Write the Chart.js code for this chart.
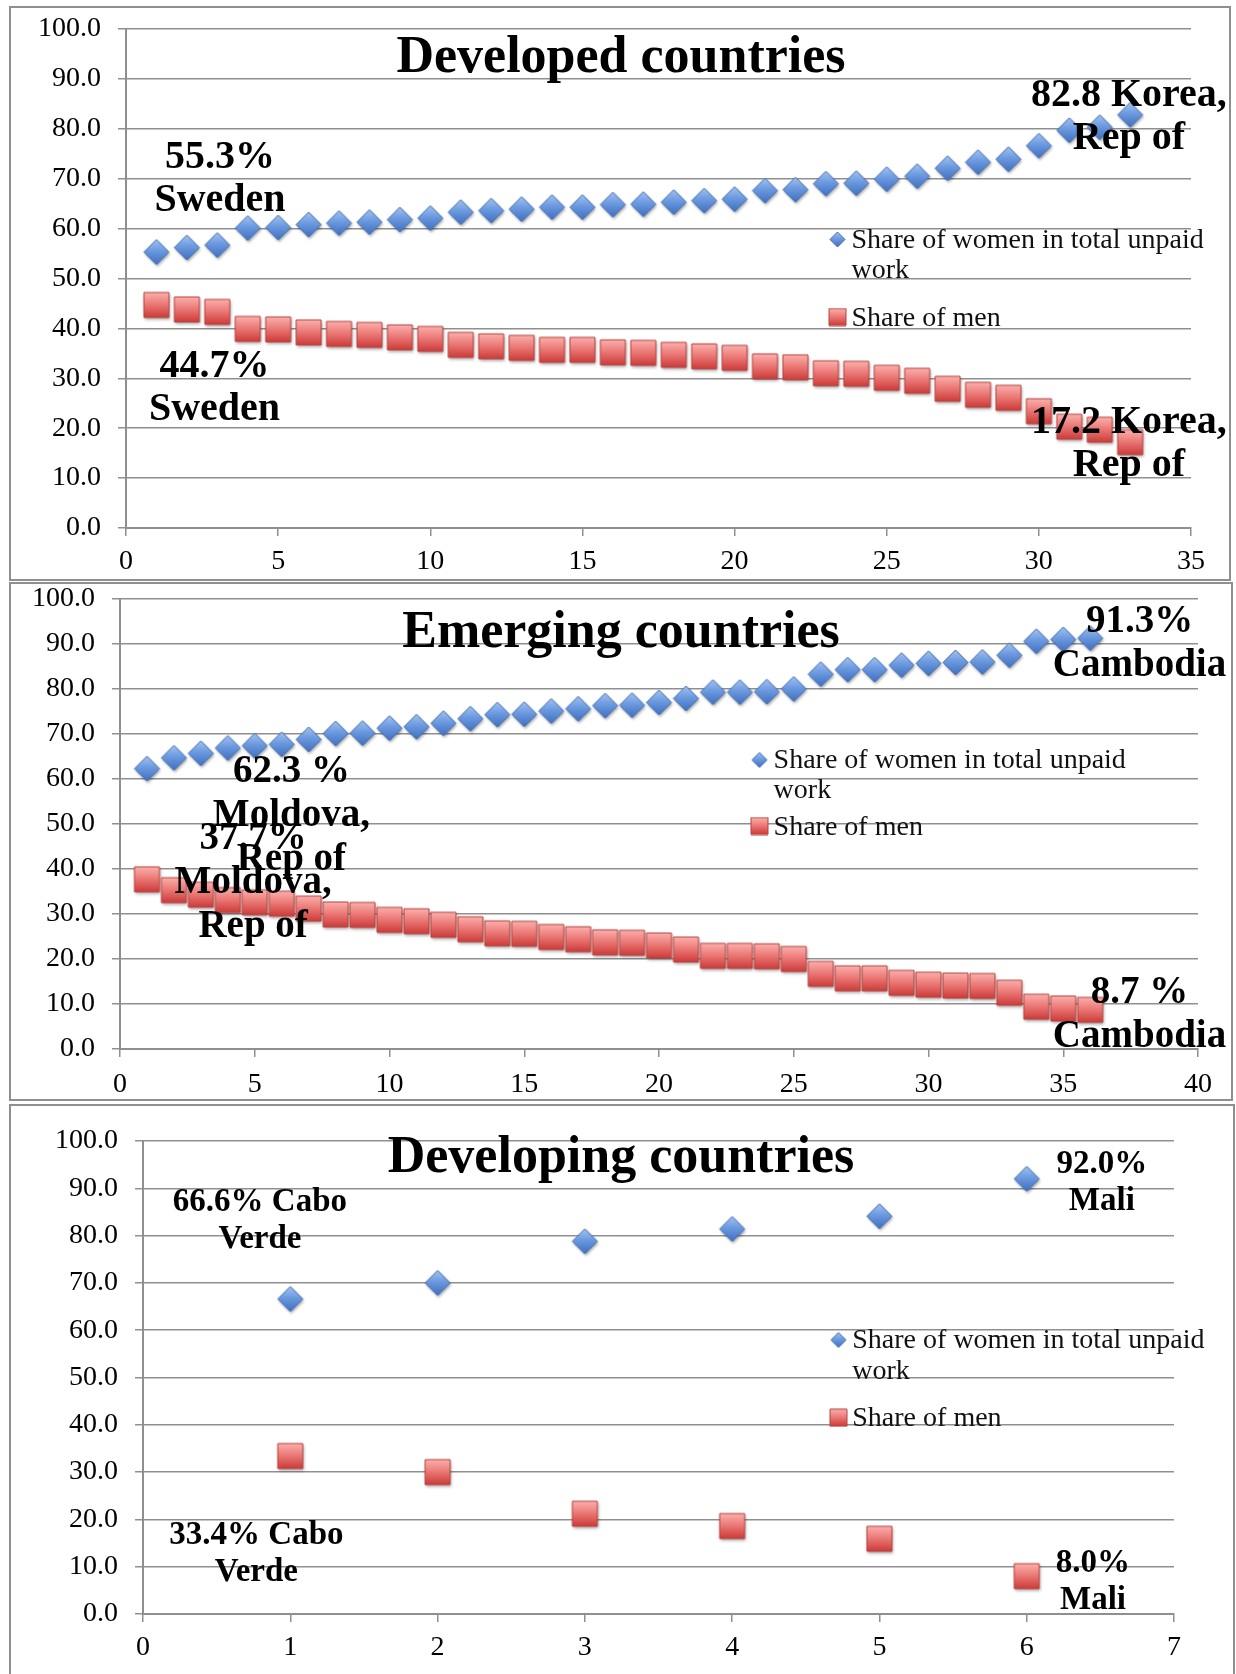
<!DOCTYPE html>
<html>
<head>
<meta charset="utf-8">
<script src="https://cdn.jsdelivr.net/npm/chart.js@4.4.1/dist/chart.umd.min.js"></script>
<style>
html, body { margin: 0; padding: 0; background: #fff; }
body { width: 1236px; height: 1674px; position: relative; overflow: hidden; }
.panel { position: absolute; border: 2px solid #8f8f8f; box-sizing: border-box; }
.wrap { position: absolute; left: 0; width: 1236px; }
canvas { display: block; }
</style>
</head>
<body>
<div class="panel" style="left:9px;top:6px;width:1222px;height:575px"></div>
<div class="panel" style="left:9px;top:582px;width:1224px;height:519px"></div>
<div class="panel" style="left:9px;top:1104px;width:1226px;height:590px"></div>
<div class="wrap" style="top:0px;height:581px"><canvas id="c1" width="1236" height="581"></canvas></div>
<div class="wrap" style="top:581px;height:521px"><canvas id="c2" width="1236" height="521"></canvas></div>
<div class="wrap" style="top:1102px;height:572px"><canvas id="c3" width="1236" height="572"></canvas></div>
<script>
// ---------------- DATA ----------------
const developedRank = [1,2,3,4,5,6,7,8,9,10,11,12,13,14,15,16,17,18,19,20,21,22,23,24,25,26,27,28,29,30,31,32,33];
const developedWomen = [55.3,56.2,56.7,60.1,60.2,60.8,61.1,61.3,61.8,62.1,63.3,63.6,63.9,64.3,64.3,64.8,64.9,65.3,65.6,65.9,67.6,67.8,69.0,69.1,69.9,70.5,72.1,73.3,73.9,76.6,79.7,80.3,82.8];
const developedMen = [44.7,43.8,43.3,39.9,39.8,39.2,38.9,38.7,38.2,37.9,36.7,36.4,36.1,35.7,35.7,35.2,35.1,34.7,34.4,34.1,32.4,32.2,31.0,30.9,30.1,29.5,27.9,26.7,26.1,23.4,20.3,19.7,17.2];

const emergingRank = [1,2,3,4,5,6,7,8,9,10,11,12,13,14,15,16,17,18,19,20,21,22,23,24,25,26,27,28,29,30,31,32,33,34,35,36];
const emergingWomen = [62.3,64.7,65.7,66.9,67.4,67.7,68.8,70.1,70.2,71.3,71.6,72.4,73.4,74.3,74.4,75.1,75.6,76.3,76.4,77.0,77.9,79.3,79.3,79.4,80.0,83.3,84.3,84.3,85.3,85.7,85.9,86.0,87.5,90.6,91.0,91.3];
const emergingMen = [37.7,35.3,34.3,33.1,32.6,32.3,31.2,29.9,29.8,28.7,28.4,27.6,26.6,25.7,25.6,24.9,24.4,23.7,23.6,23.0,22.1,20.7,20.7,20.6,20.0,16.7,15.7,15.7,14.7,14.3,14.1,14.0,12.5,9.4,9.0,8.7];

const developingRank = [1,2,3,4,5,6];
const developingWomen = [66.6,70.0,78.8,81.4,84.1,92.0];
const developingMen = [33.4,30.0,21.2,18.6,15.9,8.0];

const seriesWomenName = 'Share of women in total unpaid work';
const seriesMenName = 'Share of men';
const legendWomenLines = ['Share of women in total unpaid', 'work'];
const legendMenLines = ['Share of men'];

const titles = ['Developed countries', 'Emerging countries', 'Developing countries'];
const yTickFormat = v => Number(v).toFixed(1);

// annotation texts (anchor given in data units of the chart)
const developedNotes = [
  { x: 3.09, y: 72.1, lines: ['55.3%', 'Sweden'] },
  { x: 32.96, y: 84.6, lines: ['82.8 Korea,', 'Rep of'] },
  { x: 2.91, y: 30.3, lines: ['44.7%', 'Sweden'] },
  { x: 32.96, y: 19.0, lines: ['17.2 Korea,', 'Rep of'] }
];
const emergingNotes = [
  { x: 6.36, y: 59.3, lines: ['62.3 %', 'Moldova,', 'Rep of'] },
  { x: 4.94, y: 44.4, lines: ['37.7%', 'Moldova,', 'Rep of'] },
  { x: 37.83, y: 92.7, lines: ['91.3%', 'Cambodia'] },
  { x: 37.83, y: 10.2, lines: ['8.7 %', 'Cambodia'] }
];
const developingNotes = [
  { x: 0.794, y: 85.2, lines: ['66.6% Cabo', 'Verde'] },
  { x: 6.51, y: 93.2, lines: ['92.0%', 'Mali'] },
  { x: 0.77, y: 14.8, lines: ['33.4% Cabo', 'Verde'] },
  { x: 6.45, y: 8.9, lines: ['8.0%', 'Mali'] }
];

// ---------------- STYLE ----------------
const FONT = '"Liberation Serif", "Times New Roman", serif';
const GRID = '#8f8f8f';

function makeMarker(shape, size, shadow) {
  const pad = shadow ? 6 : 1;
  const s = Math.ceil(size + pad * 2);
  const c = document.createElement('canvas');
  c.width = s; c.height = s;
  const g = c.getContext('2d');
  const cx = s / 2, cy = s / 2, h = size / 2;
  const path = () => {
    g.beginPath();
    if (shape === 'diamond') {
      g.moveTo(cx, cy - h); g.lineTo(cx + h, cy); g.lineTo(cx, cy + h); g.lineTo(cx - h, cy); g.closePath();
    } else {
      g.rect(cx - h, cy - h, size, size);
    }
  };
  const grad = g.createLinearGradient(0, cy - h, 0, cy + h);
  if (shape === 'diamond') {
    grad.addColorStop(0, '#a3c2f0'); grad.addColorStop(0.45, '#6b9ae0'); grad.addColorStop(1, '#3f6fc0');
  } else {
    grad.addColorStop(0, '#fbb0ad'); grad.addColorStop(0.45, '#ec7b78'); grad.addColorStop(1, '#cc3b39');
  }
  path();
  if (shadow) {
    g.shadowColor = 'rgba(0,0,0,0.35)'; g.shadowBlur = 3; g.shadowOffsetX = 1; g.shadowOffsetY = 2;
  }
  g.fillStyle = grad; g.fill();
  g.shadowColor = 'rgba(0,0,0,0)';
  g.lineWidth = 1;
  g.strokeStyle = shape === 'diamond' ? '#3d69b0' : '#b8423f';
  path(); g.stroke();
  return c;
}

const diamondImg = makeMarker('diamond', 25, true);
const squareImg = makeMarker('square', 25, true);
const diamondSmall = makeMarker('diamond', 15, false);
const squareSmall = makeMarker('square', 17, false);

const overlayCfg = {
  c1: { title: titles[0], titleX: 621, titleY: 72, titleSize: 52, notes: developedNotes, noteSize: 40, noteLH: 43,
        legend: { mx: 837.5, wy: 239.5, tx: 851.5, wb: [248, 278], my: 317, mb: 326 } },
  c2: { title: titles[1], titleX: 621, titleY: 66, titleSize: 52, notes: emergingNotes, noteSize: 39, noteLH: 44,
        legend: { mx: 759.5, wy: 179, tx: 773.6, wb: [187, 217], my: 245, mb: 254 } },
  c3: { title: titles[2], titleX: 621, titleY: 70, titleSize: 52, notes: developingNotes, noteSize: 33, noteLH: 37,
        legend: { mx: 838.5, wy: 238, tx: 852.3, wb: [246, 277], my: 315.7, mb: 324 } }
};

const overlayPlugin = {
  id: 'overlayText',
  afterDatasetsDraw(chart) {
    const cfg = overlayCfg[chart.canvas.id];
    if (!cfg) return;
    const ctx = chart.ctx;
    const xs = chart.scales.x, ys = chart.scales.y;
    ctx.save();
    ctx.fillStyle = '#000';
    ctx.textBaseline = 'alphabetic';
    // title
    ctx.textAlign = 'center';
    ctx.font = 'bold ' + cfg.titleSize + 'px ' + FONT;
    ctx.fillText(cfg.title, cfg.titleX, cfg.titleY);
    // data notes
    ctx.font = 'bold ' + cfg.noteSize + 'px ' + FONT;
    cfg.notes.forEach(n => {
      const px = xs.getPixelForValue(n.x);
      const py = ys.getPixelForValue(n.y);
      n.lines.forEach((t, i) => ctx.fillText(t, px, py + i * cfg.noteLH));
    });
    // legend
    const L = cfg.legend;
    ctx.drawImage(diamondSmall, L.mx - diamondSmall.width / 2, L.wy - diamondSmall.height / 2);
    ctx.drawImage(squareSmall, L.mx - squareSmall.width / 2, L.my - squareSmall.height / 2);
    ctx.textAlign = 'left';
    ctx.font = '28px ' + FONT;
    ctx.fillStyle = '#111';
    legendWomenLines.forEach((t, i) => ctx.fillText(t, L.tx, L.wb[i]));
    legendMenLines.forEach((t, i) => ctx.fillText(t, L.tx, L.mb + i * 30));
    ctx.restore();
  }
};

function buildChart(id, ranks, women, men, xMax, xStep, geo) {
  const tickFont = { family: FONT, size: 28 };
  return new Chart(document.getElementById(id), {
    type: 'scatter',
    data: {
      datasets: [
        { label: seriesWomenName, data: ranks.map((r, i) => ({ x: r, y: women[i] })),
          pointStyle: diamondImg, radius: 12, hoverRadius: 12, borderWidth: 0 },
        { label: seriesMenName, data: ranks.map((r, i) => ({ x: r, y: men[i] })),
          pointStyle: squareImg, radius: 12, hoverRadius: 12, borderWidth: 0 }
      ]
    },
    options: {
      responsive: false,
      animation: false,
      events: [],
      layout: { padding: { left: 0, right: geo.right, top: geo.top, bottom: 0 } },
      plugins: { legend: { display: false }, tooltip: { enabled: false }, title: { display: false } },
      scales: {
        x: {
          type: 'linear', min: 0, max: xMax,
          ticks: { stepSize: xStep, font: tickFont, color: '#000', padding: geo.xPad, maxRotation: 0, autoSkip: false },
          grid: { drawOnChartArea: false, drawTicks: true, tickLength: 8, color: GRID, lineWidth: 1.5 },
          border: { color: GRID, width: 2 },
          afterFit: s => { s.height = geo.xH; s.paddingLeft = 0; s.paddingRight = 0; }
        },
        y: {
          type: 'linear', min: 0, max: 100,
          ticks: { stepSize: 10, font: tickFont, color: '#000', padding: 17, callback: yTickFormat },
          grid: { color: GRID, lineWidth: 1.5, tickLength: 8 },
          border: { color: GRID, width: 2 },
          afterFit: s => { s.width = geo.yW; s.paddingTop = 0; s.paddingBottom = 0; }
        }
      }
    },
    plugins: [overlayPlugin]
  });
}

buildChart('c1', developedRank, developedWomen, developedMen, 35, 5, { yW: 126, right: 45, top: 29, xH: 53, xPad: 9 });
buildChart('c2', emergingRank, emergingWomen, emergingMen, 40, 5, { yW: 120, right: 38, top: 18, xH: 53, xPad: 11 });
buildChart('c3', developingRank, developingWomen, developingMen, 7, 1, { yW: 143, right: 62, top: 39, xH: 60, xPad: 9 });
</script>
</body>
</html>
